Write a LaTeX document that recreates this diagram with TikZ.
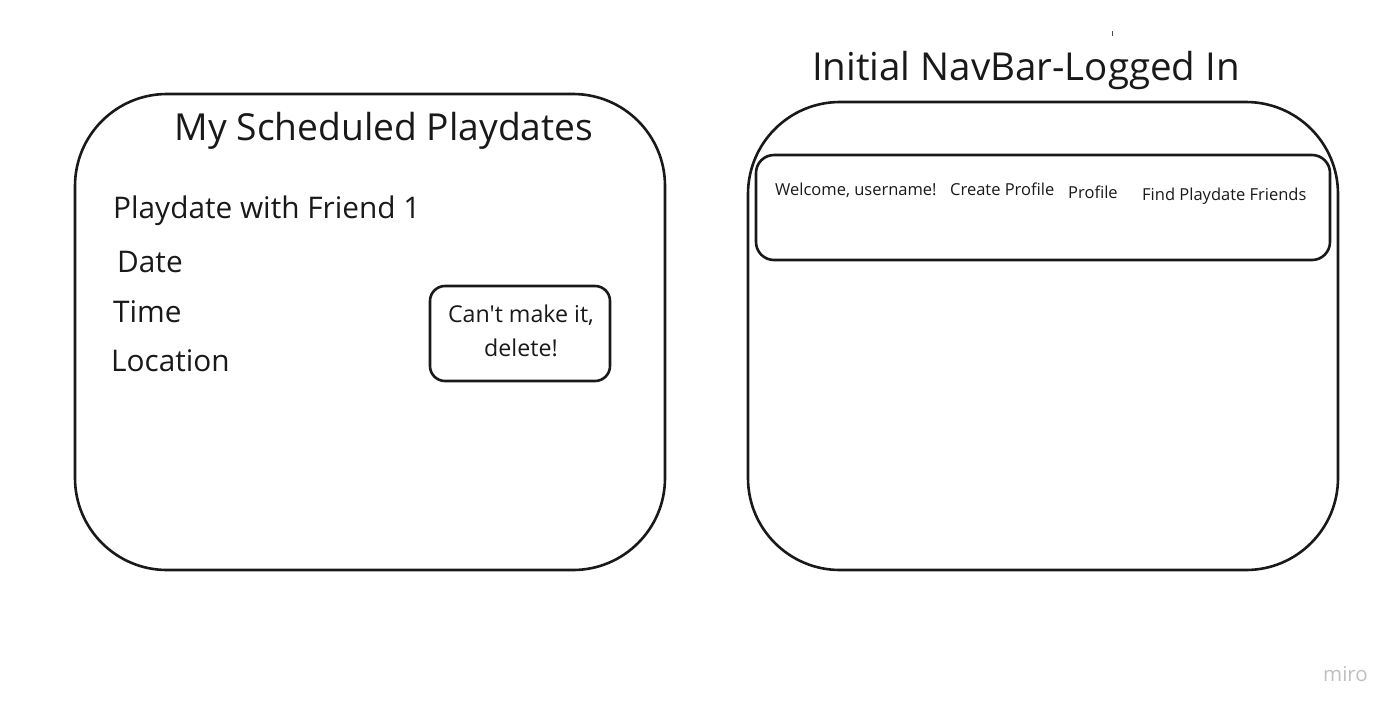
\documentclass[tikz,border=0pt]{standalone}
\usepackage{fontspec}
\setmainfont{Open Sans}[Ligatures=TeXOff]
\begin{document}
\begin{tikzpicture}[x=1pt,y=-1pt,
  frame/.style={draw=black!90,line width=2.6pt,rounded corners=92pt},
  bar/.style={draw=black!90,line width=2.6pt,rounded corners=18pt},
  btn/.style={draw=black!90,line width=2.6pt,rounded corners=15pt},
  big/.style={inner sep=0pt,font=\fontsize{37.2}{46}\selectfont,text=black!90},
  mid/.style={inner sep=0pt,font=\fontsize{29.8}{35}\selectfont,text=black!90},
  sml/.style={inner sep=0pt,font=\fontsize{23.2}{34}\selectfont,text=black!90,align=center},
  tiny/.style={inner sep=0pt,font=\fontsize{16.5}{20}\selectfont,text=black!90}]
\useasboundingbox (0,0) rectangle (1400,713);
% left panel
\draw[frame] (75,94) rectangle (665,570);
\node[big,anchor=base] (t1) at (384,140) {My Scheduled Playdates};
\node[mid,anchor=base west] (pf) at (113,218) {Playdate with Friend 1};
\node[mid,anchor=base west] (dt) at (117,272) {Date};
\node[mid,anchor=base west] (tm) at (113,322) {Time};
\node[mid,anchor=base west] (lc) at (111,371) {Location};
\draw[btn] (430,286) rectangle (610,381);
\node[sml,anchor=center] (del) at (521,331) {Can't make it,\\delete!};
% right panel
\node[inner sep=0pt,font=\fontsize{38.5}{46}\selectfont,text=black!90,anchor=base] (t2) at (1026,80) {Initial NavBar-Logged In};
\draw[frame] (748,102) rectangle (1338,570);
\draw[bar] (756,155) rectangle (1330,260);
\node[tiny,anchor=base west] (w) at (775,195) {Welcome, username!};
\node[tiny,anchor=base west] (cp) at (950,195) {Create Profile};
\node[tiny,anchor=base west] (pr) at (1068,198) {Profile};
\node[tiny,anchor=base west] (fp) at (1142,200) {Find Playdate Friends};
\draw[line width=1pt,black!70] (1112,31) -- (1112,36);
\node[inner sep=0pt,font=\fontsize{20.5}{22}\selectfont,text=black!25,anchor=base west] (miro) at (1323,681) {miro};
\end{tikzpicture}
\end{document}
